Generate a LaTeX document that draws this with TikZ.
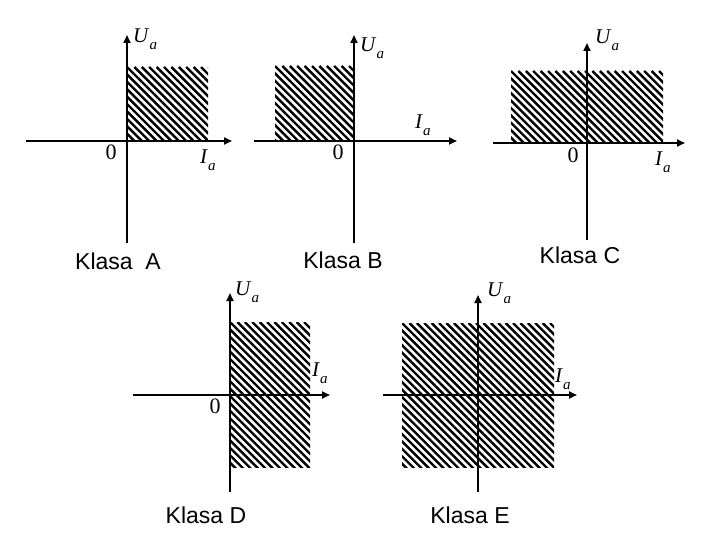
\documentclass[tikz,border=0pt]{standalone}
\usepackage{fontspec}
\setmainfont{Liberation Serif}
\newfontfamily\arialf{Liberation Sans}
\usetikzlibrary{arrows.meta}
\newcommand{\hatchrect}[4]{%
  \begin{scope}
    \clip (#1,#2) rectangle (#3,#4);
    \foreach \k in {-25,...,25}{\draw[line width=2.4pt] (#1+\k*7.4,#2) -- ++(200,200);}
  \end{scope}}
\newcommand{\Ua}{\textit{U}\raisebox{-7pt}{\fontsize{15}{18}\selectfont\textit{a}}}
\newcommand{\Ia}{\textit{I}\raisebox{-7pt}{\fontsize{15}{18}\selectfont\textit{a}}}
\tikzset{
  axis/.style={line width=2pt,-{Triangle[length=8pt,width=7pt]}},
  lbl/.style={inner sep=0pt,font=\fontsize{21}{25}\selectfont},
  zero/.style={inner sep=0pt,font=\fontsize{22}{26}\selectfont},
  klasa/.style={inner sep=0pt,font=\arialf\fontsize{23}{27}\selectfont}
}
\begin{document}
\begin{tikzpicture}[x=1pt,y=-1pt]
\useasboundingbox (0,0) rectangle (720,540);
% ---------- Klasa A ----------
\hatchrect{127}{67}{208}{141}
\coordinate (Av0) at (127,243); \coordinate (Av1) at (127,35);
\coordinate (Ah0) at (26,141);  \coordinate (Ah1) at (232,141);
\draw[axis] (Av0) -- (Av1);
\draw[axis] (Ah0) -- (Ah1);
\node[lbl,anchor=west] (AU) at (133,39) {\Ua};
\node[zero] (A0) at (111,152) {0};
\node[lbl,anchor=west] (AI) at (200,160) {\Ia};
\node[klasa] (AK) at (118,261) {Klasa\ \ A};
% ---------- Klasa B ----------
\hatchrect{275}{66}{354}{141}
\coordinate (Bv0) at (354,243); \coordinate (Bv1) at (354,35);
\coordinate (Bh0) at (254,141); \coordinate (Bh1) at (457,141);
\draw[axis] (Bv0) -- (Bv1);
\draw[axis] (Bh0) -- (Bh1);
\node[lbl,anchor=west] (BU) at (360,48) {\Ua};
\node[zero] (B0) at (338,152) {0};
\node[lbl,anchor=west] (BI) at (415,125) {\Ia};
\node[klasa] (BK) at (343,260) {Klasa B};
% ---------- Klasa C ----------
\hatchrect{511}{71}{663}{143}
\coordinate (Cv0) at (587,240); \coordinate (Cv1) at (587,43);
\coordinate (Ch0) at (493,143); \coordinate (Ch1) at (685,143);
\draw[axis] (Cv0) -- (Cv1);
\draw[axis] (Ch0) -- (Ch1);
\node[lbl,anchor=west] (CU) at (595,40) {\Ua};
\node[zero] (C0) at (573,155) {0};
\node[lbl,anchor=west] (CI) at (655,162) {\Ia};
\node[klasa] (CK) at (580,255) {Klasa C};
% ---------- Klasa D ----------
\hatchrect{230}{322}{310}{467}
\coordinate (Dv0) at (230,492); \coordinate (Dv1) at (230,293);
\coordinate (Dh0) at (133,395); \coordinate (Dh1) at (330,395);
\draw[axis] (Dv0) -- (Dv1);
\draw[axis] (Dh0) -- (Dh1);
\node[lbl,anchor=west] (DU) at (235,292) {\Ua};
\node[zero] (D0) at (215,406) {0};
\node[lbl,anchor=west] (DI) at (312,373) {\Ia};
\node[klasa] (DK) at (206,515) {Klasa D};
% ---------- Klasa E ----------
\hatchrect{402}{323}{554}{467}
\coordinate (Ev0) at (478,492); \coordinate (Ev1) at (478,295);
\coordinate (Eh0) at (383,395); \coordinate (Eh1) at (577,395);
\draw[axis] (Ev0) -- (Ev1);
\draw[axis] (Eh0) -- (Eh1);
\node[lbl,anchor=west] (EU) at (487,293) {\Ua};
\node[lbl,anchor=west] (EI) at (555,379) {\Ia};
\node[klasa] (EK) at (470,515) {Klasa E};
\end{tikzpicture}
\end{document}
